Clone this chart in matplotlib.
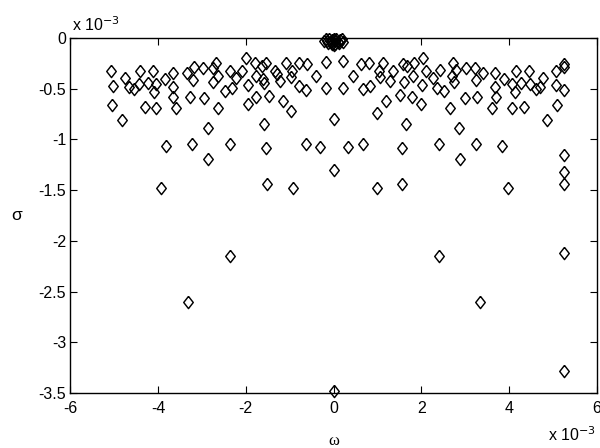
import numpy as np
import matplotlib
matplotlib.use("Agg")
import matplotlib.pyplot as plt

plt.rcParams['font.family'] = ['Liberation Sans', 'DejaVu Sans']
plt.rcParams['axes.unicode_minus'] = False

# eigenvalue locations, both in units of 1e-3
# cluster of near-zero modes
omega_zero = [-0.22, -0.18, -0.14, -0.10, -0.06, -0.03, 0.00, 0.03, 0.06, 0.10,
              0.14, 0.18, 0.22, -0.12, -0.04, 0.04, 0.12, 0.00]
sigma_zero = [-0.03, -0.01, -0.03, -0.01, -0.04, -0.02, -0.01, -0.03, -0.01, -0.04,
              -0.02, -0.01, -0.04, -0.05, -0.06, -0.06, -0.05, -0.07]

# left half-plane frequencies
omega_left = [-5.06, -5.03, -5.05, -4.83, -4.76, -4.67, -4.55, -4.42, -4.43, -4.30,
              -4.23, -4.12, -4.10, -4.04, -4.04, -3.93, -3.84, -3.81, -3.66, -3.65,
              -3.65, -3.58, -3.34, -3.31, -3.23, -3.26, -3.19, -3.20, -2.97, -2.96,
              -2.85, -2.85, -2.75, -2.75, -2.69, -2.64, -2.64, -2.48, -2.36, -2.36,
              -2.37, -2.32, -2.23, -2.09, -1.99, -1.96, -1.94, -1.79, -1.76, -1.76,
              -1.63, -1.60, -1.59, -1.55, -1.53, -1.51, -1.48, -1.59, -1.33, -1.28,
              -1.22, -1.15, -1.09, -0.94, -0.96, -0.93, -0.98, -0.79, -0.79, -0.64,
              -0.64, -0.61, -0.39, -0.30, -0.17, -0.17]
sigma_left = [-0.32, -0.47, -0.66, -0.81, -0.39, -0.48, -0.50, -0.32, -0.45, -0.68,
              -0.44, -0.32, -0.53, -0.45, -0.69, -1.48, -0.40, -1.06, -0.34, -0.48,
              -0.58, -0.69, -0.34, -2.60, -1.04, -0.58, -0.29, -0.41, -0.30, -0.59,
              -0.89, -1.19, -0.30, -0.43, -0.25, -0.37, -0.69, -0.52, -0.32, -1.04,
              -2.15, -0.49, -0.39, -0.32, -0.20, -0.46, -0.65, -0.25, -0.37, -0.58,
              -0.28, -0.40, -0.85, -0.25, -1.08, -1.44, -0.57, -0.44, -0.32, -0.35,
              -0.42, -0.62, -0.25, -0.32, -0.72, -1.48, -0.38, -0.25, -0.47, -0.51,
              -1.04, -0.26, -0.37, -1.07, -0.24, -0.49]

# modes on the zero-frequency axis
omega_axis = [0.0, 0.0, 0.0]
sigma_axis = [-0.80, -1.30, -3.48]

# right half-plane frequencies
omega_right = [0.22, 0.22, 0.44, 0.32, 0.63, 0.68, 0.68, 0.80, 0.83, 1.00,
               0.98, 1.03, 1.06, 1.13, 1.20, 1.29, 1.35, 1.51, 1.55, 1.55,
               1.57, 1.61, 1.64, 1.68, 1.79, 1.81, 1.83, 1.98, 2.01, 2.03,
               2.11, 2.27, 2.36, 2.40, 2.42, 2.41, 2.51, 2.66, 2.69, 2.73,
               2.75, 2.79, 2.86, 2.88, 3.01, 2.99, 3.23, 3.25, 3.27, 3.25,
               3.33, 3.40, 3.60, 3.68, 3.68, 3.71, 3.84, 3.88, 3.97, 4.07,
               4.07, 4.14, 4.16, 4.28, 4.34, 4.45, 4.47, 4.61, 4.71, 4.78,
               4.87, 5.06, 5.06, 5.09]
sigma_right = [-0.23, -0.49, -0.37, -1.07, -0.26, -0.50, -1.04, -0.25, -0.47, -0.74,
               -1.48, -0.32, -0.38, -0.25, -0.62, -0.42, -0.32, -0.56, -1.08, -1.44,
               -0.26, -0.43, -0.85, -0.28, -0.58, -0.37, -0.25, -0.65, -0.46, -0.20,
               -0.32, -0.39, -0.49, -1.04, -0.31, -2.15, -0.52, -0.69, -0.37, -0.25,
               -0.43, -0.31, -0.89, -1.19, -0.30, -0.59, -0.30, -0.41, -0.58, -1.04,
               -2.60, -0.34, -0.69, -0.34, -0.48, -0.58, -1.06, -0.40, -1.48, -0.45,
               -0.69, -0.53, -0.32, -0.44, -0.68, -0.32, -0.45, -0.50, -0.48, -0.39,
               -0.81, -0.32, -0.46, -0.66]

# modes at the Nyquist edge
omega_edge = [5.25, 5.25, 5.25, 5.25, 5.25, 5.25, 5.25, 5.25]
sigma_edge = [-0.26, -0.29, -0.51, -1.15, -1.32, -1.44, -2.12, -3.28]

omega = np.concatenate([omega_zero, omega_left, omega_axis, omega_right, omega_edge])
sigma = np.concatenate([sigma_zero, sigma_left, sigma_axis, sigma_right, sigma_edge])

# MATLAB-style diamond, slightly taller than wide
diamond = [(0, 1), (0.78, 0), (0, -1), (-0.78, 0), (0, 1)]

fig = plt.figure(figsize=(6.0, 4.48), dpi=100)
ax = fig.add_axes([0.117, 0.123, 0.878, 0.792])
ax.plot(omega, sigma, linestyle='none', marker=diamond, markersize=8.8,
        markerfacecolor='none', markeredgecolor='black', markeredgewidth=1.05,
        clip_on=False)

ax.set_xlim(-6, 6)
ax.set_ylim(-3.5, 0)
ax.set_xticks([-6, -4, -2, 0, 2, 4, 6])
ax.set_yticks([-3.5, -3, -2.5, -2, -1.5, -1, -0.5, 0])
ax.set_xticklabels(['-6', '-4', '-2', '0', '2', '4', '6'])
ax.set_yticklabels(['-3.5', '-3', '-2.5', '-2', '-1.5', '-1', '-0.5', '0'])
ax.tick_params(direction='in', length=5, width=0.8, top=True, right=True,
               labelsize=11.5)
ax.tick_params(axis='x', pad=6)
ax.tick_params(axis='y', pad=3)
for s in ax.spines.values():
    s.set_linewidth(1.0)

ax.set_xlabel('ω', fontsize=12, family=['Liberation Serif', 'DejaVu Serif'], labelpad=12)
ax.set_ylabel('σ', fontsize=12.5, rotation=0, labelpad=16, va='center')

ax.text(0.003, 1.012, 'x 10$^{-3}$', transform=ax.transAxes, fontsize=11.5,
        ha='left', va='bottom')
fig.text(0.913, 0.008, 'x 10$^{-3}$', fontsize=11.5, ha='left', va='bottom')

fig.savefig('out.png', dpi=100)
